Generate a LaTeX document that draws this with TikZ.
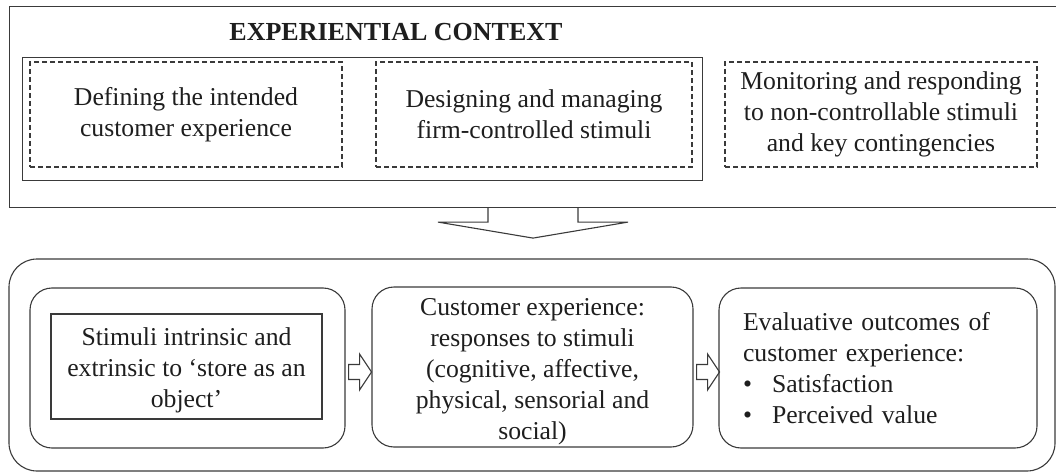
\documentclass[tikz,border=0pt]{standalone}
\usepackage{fontspec}
\setmainfont{Liberation Serif}
\usetikzlibrary{calc}
\definecolor{ln}{HTML}{3A3A3A}
\definecolor{tx}{HTML}{1E1E1E}
\begin{document}
\begin{tikzpicture}[x=1pt,y=-1pt,
  every node/.style={text=tx, font=\fontsize{25.7}{31}\selectfont},
  box/.style={draw=ln, line width=1.1pt, inner sep=0pt},
  dbox/.style={draw=ln, line width=1.1pt, dash pattern=on 5pt off 3pt, inner sep=0pt, align=center},
  rbox/.style={draw=ln, line width=1.1pt, rounded corners=22pt, inner sep=0pt},
  harrow/.style={draw=ln, line width=1.1pt, line join=miter}
]
\useasboundingbox (0,0) rectangle (1056,473);
% top context
\node[box, anchor=north west, minimum width=1060pt, minimum height=201pt] (ctx) at (9,6) {};
\node[font=\fontsize{26}{31}\selectfont\bfseries] (title) at (396,32) {EXPERIENTIAL CONTEXT};
\node[box, anchor=north west, minimum width=680pt, minimum height=123pt] (firm) at (22,57) {};
\node[dbox, minimum width=312pt, minimum height=105pt] (d1) at (186,114.5) {Defining the intended\\customer experience};
\node[dbox, minimum width=316pt, minimum height=105pt] (d2) at (534,114.5) {Designing and managing\\firm-controlled stimuli};
\node[dbox, minimum width=312pt, minimum height=105pt] (d3) at (881,114.5) {Monitoring and responding\\to non-controllable stimuli\\and key contingencies};
% bottom process
\node[rbox, rounded corners=28pt, minimum width=1046pt, minimum height=212pt] (proc) at (532,365) {};
\node[rbox, minimum width=315pt, minimum height=160pt] (b1) at (187.5,368) {};
\node[box, minimum width=271pt, minimum height=105pt] (stim) at (186.5,366.5) {};
\node[align=center, inner sep=0pt] (stimt) at ($(stim)+(0,4)$) {Stimuli intrinsic and\\extrinsic to `store as an\\object'};
\node[rbox, minimum width=321pt, minimum height=160pt] (b2) at (532.5,367) {};
\node[align=center, inner sep=0pt] (b2t) at ($(b2)+(0,5)$) {Customer experience:\\responses to stimuli\\(cognitive, affective,\\physical, sensorial and\\social)};
\node[rbox, minimum width=318pt, minimum height=160pt, inner xsep=24pt, text width=270pt, align=left] (b3) at (878,368) {Evaluative outcomes of\\customer experience:\\\makebox[29pt][l]{\textbullet}Satisfaction\\\makebox[29pt][l]{\textbullet}Perceived value};
% big arrow from context to process
\coordinate (bt) at (533,0 |- ctx.south);
\draw[harrow] ($(bt)+(-45,0)$) -- ++(0,14) -- ++(-50,0) -- ($(bt)+(0,30)$) -- ($(bt)+(95,14)$) -- ++(-50,0) -- ++(0,-14);
% small hollow arrows
\coordinate (a1) at ($(b1.east)+(3,4)$);
\coordinate (a2) at ($(b2.east)+(3,5)$);
\foreach \a in {a1,a2}{
  \draw[harrow] (\a) ++(0,-7.5) -- ++(11,0) -- ++(0,-10.5) -- ++(12,18) -- ++(-12,18) -- ++(0,-10.5) -- ++(-11,0) -- cycle;
}
\end{tikzpicture}
\end{document}
